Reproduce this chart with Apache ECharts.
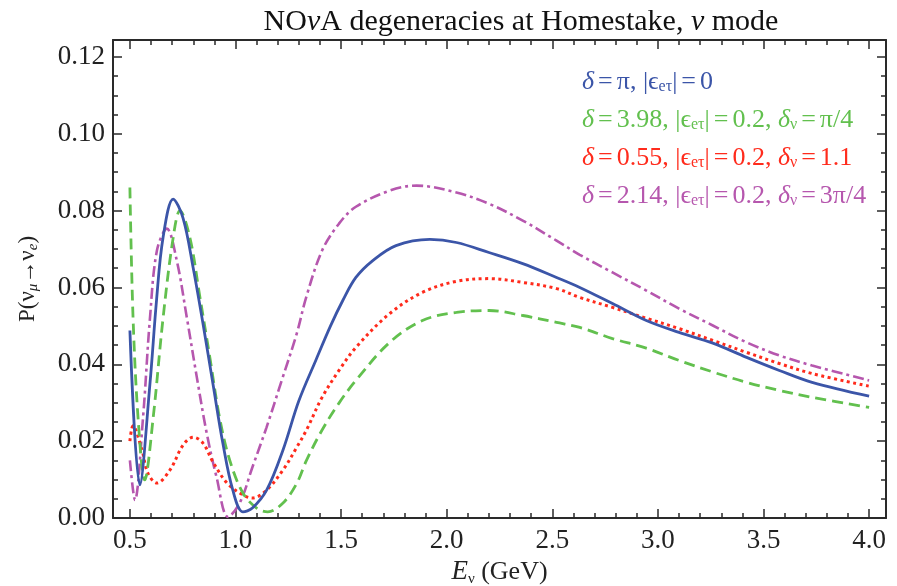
<!DOCTYPE html>
<html>
<head>
<meta charset="utf-8">
<script src="https://cdn.jsdelivr.net/npm/echarts@6/dist/echarts.min.js"></script>
<style>
html,body{margin:0;padding:0;background:#fff;}
#chart{width:897px;height:586px;}
</style>
</head>
<body>
<div id="chart"></div>
<script>
// ---- data ----
const xTicks = [0.5, 1.0, 1.5, 2.0, 2.5, 3.0, 3.5, 4.0];
const xMinorTicks = [0.6,0.7,0.8,0.9,1.1,1.2,1.3,1.4,1.6,1.7,1.8,1.9,2.1,2.2,2.3,2.4,2.6,2.7,2.8,2.9,3.1,3.2,3.3,3.4,3.6,3.7,3.8,3.9];
const yTicks = [0.00, 0.02, 0.04, 0.06, 0.08, 0.10, 0.12];
const yMinorTicks = [0.005,0.01,0.015,0.025,0.03,0.035,0.045,0.05,0.055,0.065,0.07,0.075,0.085,0.09,0.095,0.105,0.11,0.115];

const seriesNames = [
  'δ=π, |ϵeτ|=0',
  'δ=3.98, |ϵeτ|=0.2, δν=π/4',
  'δ=0.55, |ϵeτ|=0.2, δν=1.1',
  'δ=2.14, |ϵeτ|=0.2, δν=3π/4'
];

const blueE = [0.5,0.547,0.595,0.626,0.657,0.705,0.752,0.80,0.846,0.893,0.94,0.987,1.035,1.08,1.148,1.225,1.30,1.38,1.45,1.508,1.57,1.65,1.76,1.92,2.046,2.20,2.36,2.52,2.63,2.785,2.945,3.10,3.26,3.42,3.575,3.73,4.0];
const blueP = [0.0488,0.0086,0.035,0.0566,0.073,0.083,0.078,0.065,0.0506,0.035,0.0195,0.0073,0.0016,0.0026,0.0073,0.0177,0.0305,0.0410,0.050,0.0566,0.0626,0.067,0.0709,0.0725,0.0717,0.0691,0.0662,0.0626,0.060,0.0558,0.0514,0.0483,0.0455,0.0418,0.0384,0.0353,0.0317];

const greenE = [0.5,0.515,0.54,0.57,0.61,0.657,0.705,0.737,0.784,0.83,0.878,0.925,0.973,1.035,1.10,1.153,1.225,1.29,1.336,1.41,1.49,1.57,1.73,1.885,2.046,2.20,2.36,2.52,2.63,2.785,2.945,3.10,3.26,3.42,3.575,3.73,4.0];
const greenP = [0.086,0.052,0.025,0.0099,0.026,0.052,0.073,0.080,0.073,0.058,0.042,0.026,0.015,0.0065,0.0026,0.0016,0.0039,0.009,0.015,0.0229,0.0299,0.0358,0.0457,0.0514,0.0535,0.054,0.0527,0.0509,0.0496,0.0467,0.0442,0.041,0.038,0.0353,0.0332,0.0314,0.0288];

const redE = [0.5,0.515,0.557,0.585,0.628,0.69,0.752,0.80,0.846,0.893,0.96,1.035,1.08,1.148,1.225,1.29,1.336,1.41,1.49,1.57,1.73,1.885,2.046,2.20,2.36,2.52,2.63,2.785,2.945,3.10,3.26,3.42,3.575,3.73,4.0];
const redP = [0.020,0.024,0.0177,0.0117,0.0091,0.0125,0.019,0.021,0.0195,0.0146,0.0091,0.006,0.0052,0.0073,0.0125,0.0184,0.0229,0.0314,0.0384,0.0444,0.0532,0.0587,0.0616,0.0623,0.0613,0.0597,0.0574,0.0548,0.052,0.0493,0.0462,0.0431,0.0402,0.0376,0.0343];

const magentaE = [0.5,0.524,0.562,0.595,0.628,0.675,0.722,0.77,0.817,0.864,0.91,0.965,1.02,1.08,1.147,1.22,1.29,1.335,1.41,1.49,1.57,1.73,1.857,2.046,2.20,2.36,2.52,2.63,2.785,2.945,3.10,3.26,3.42,3.575,3.73,4.0];
const magentaP = [0.015,0.0047,0.026,0.052,0.0696,0.0753,0.067,0.052,0.0366,0.022,0.0107,0.0003,0.0039,0.0132,0.0236,0.036,0.048,0.0575,0.0696,0.0766,0.081,0.0852,0.0865,0.0847,0.0818,0.0774,0.0722,0.0685,0.0639,0.0592,0.0545,0.0501,0.0457,0.0423,0.0397,0.0358];

const colors = ['#3b55a8', '#62c04e', '#ff2b1c', '#b657ae'];

// ---- chart ----
const zip = (a, b) => a.map((v, i) => [v, b[i]]);
const serif = '"Liberation Serif", "DejaVu Serif", serif';
const XMIN = 0.42, XMAX = 4.08, YMIN = 0, YMAX = 0.1244;

const legendRich = {
  i: { fontStyle: 'italic', fontFamily: serif, fontSize: 26, lineHeight: 26 },
  q: { fontFamily: serif, fontSize: 26, lineHeight: 26, padding: [0, 4, 0, 4] },
  s: { fontFamily: serif, fontSize: 16, lineHeight: 12, verticalAlign: 'bottom' }
};
const legendFmt = {
  [seriesNames[0]]: '{i|δ}{q|=}π, |ϵ{s|eτ}|{q|=}0',
  [seriesNames[1]]: '{i|δ}{q|=}3.98, |ϵ{s|eτ}|{q|=}0.2, {i|δ}{s|ν}{q|=}π/4',
  [seriesNames[2]]: '{i|δ}{q|=}0.55, |ϵ{s|eτ}|{q|=}0.2, {i|δ}{s|ν}{q|=}1.1',
  [seriesNames[3]]: '{i|δ}{q|=}2.14, |ϵ{s|eτ}|{q|=}0.2, {i|δ}{s|ν}{q|=}3π/4'
};

const axisLineStyle = { color: '#2a2a2a', width: 2 };
function xAx(position, values, len, showLabel, showLine) {
  return {
    type: 'value', position: position, min: XMIN, max: XMAX,
    axisLine: { show: showLine, onZero: false, lineStyle: axisLineStyle },
    axisTick: { show: true, inside: true, length: len, customValues: values, lineStyle: { color: '#2a2a2a', width: 1.5 } },
    axisLabel: { show: showLabel, customValues: values, margin: 9, color: '#222', fontFamily: serif, fontSize: 27,
      formatter: v => v.toFixed(1) },
    splitLine: { show: false }
  };
}
function yAx(position, values, len, showLabel, showLine) {
  return {
    type: 'value', position: position, min: YMIN, max: YMAX,
    axisLine: { show: showLine, onZero: false, lineStyle: axisLineStyle },
    axisTick: { show: true, inside: true, length: len, customValues: values, lineStyle: { color: '#2a2a2a', width: 1.5 } },
    axisLabel: { show: showLabel, customValues: values, margin: 8, color: '#222', fontFamily: serif, fontSize: 27,
      formatter: v => v.toFixed(2) },
    splitLine: { show: false }
  };
}

const xAxes = [
  xAx('bottom', xTicks, 9, true, true),
  xAx('bottom', xMinorTicks, 5, false, false),
  xAx('top', xTicks, 9, false, true),
  xAx('top', xMinorTicks, 5, false, false)
];
xAxes[0].name = '{i|E}{s|ν} (GeV)';
xAxes[0].nameLocation = 'middle';
xAxes[0].nameGap = 40;
xAxes[0].nameTextStyle = {
  fontFamily: serif, fontSize: 26, color: '#222',
  rich: {
    i: { fontStyle: 'italic', fontFamily: serif, fontSize: 27, lineHeight: 28 },
    s: { fontFamily: serif, fontSize: 15, lineHeight: 11, verticalAlign: 'bottom' }
  }
};
const yAxes = [
  yAx('left', yTicks, 9, true, true),
  yAx('left', yMinorTicks, 5, false, false),
  yAx('right', yTicks, 9, false, true),
  yAx('right', yMinorTicks, 5, false, false)
];
yAxes[0].name = 'P({i|ν}{s|μ}→{i|ν}{s|e})';
yAxes[0].nameLocation = 'middle';
yAxes[0].nameGap = 72;
yAxes[0].nameRotate = 90;
yAxes[0].nameTextStyle = {
  fontFamily: serif, fontSize: 23, color: '#222',
  rich: {
    i: { fontFamily: serif, fontSize: 23, lineHeight: 26 },
    s: { fontStyle: 'italic', fontFamily: serif, fontSize: 15, lineHeight: 11, verticalAlign: 'bottom' }
  }
};

const lineStyles = [
  { width: 2.8, type: 'solid' },
  { width: 2.8, type: [11, 6] },
  { width: 3, type: [3, 3.5] },
  { width: 2.6, type: [11, 4, 3, 4] }
];
const dataSets = [zip(blueE, blueP), zip(greenE, greenP), zip(redE, redP), zip(magentaE, magentaP)];

const chart = echarts.init(document.getElementById('chart'), null, { renderer: 'canvas' });
chart.setOption({
  animation: false,
  backgroundColor: '#fff',
  title: {
    text: 'NO{i|ν}A degeneracies at Homestake, {i|ν} mode',
    left: 516, textAlign: 'center', top: 2,
    textStyle: {
      fontFamily: serif, fontSize: 30, fontWeight: 'normal', color: '#111',
      rich: { i: { fontFamily: serif, fontStyle: 'italic', fontSize: 30 } }
    }
  },
  legend: {
    orient: 'vertical', left: 572, top: 64,
    icon: 'none', itemWidth: 0, itemHeight: 14, itemGap: 12,
    data: seriesNames.map((n, i) => ({ name: n, icon: 'none', textStyle: { color: colors[i] } })),
    formatter: n => legendFmt[n],
    textStyle: { fontFamily: serif, fontSize: 26, lineHeight: 26, rich: legendRich },
    selectedMode: false
  },
  grid: { left: 113, right: 11, top: 40, bottom: 68, containLabel: false, outerBoundsMode: 'none' },
  xAxis: xAxes,
  yAxis: yAxes,
  series: seriesNames.map((n, i) => ({
    name: n, type: 'line', xAxisIndex: 0, yAxisIndex: 0,
    data: dataSets[i], showSymbol: false, smooth: 0.35, clip: true,
    lineStyle: Object.assign({ color: colors[i] }, lineStyles[i]),
    itemStyle: { color: colors[i] },
    z: 4 - i
  }))
});
</script>
</body>
</html>
